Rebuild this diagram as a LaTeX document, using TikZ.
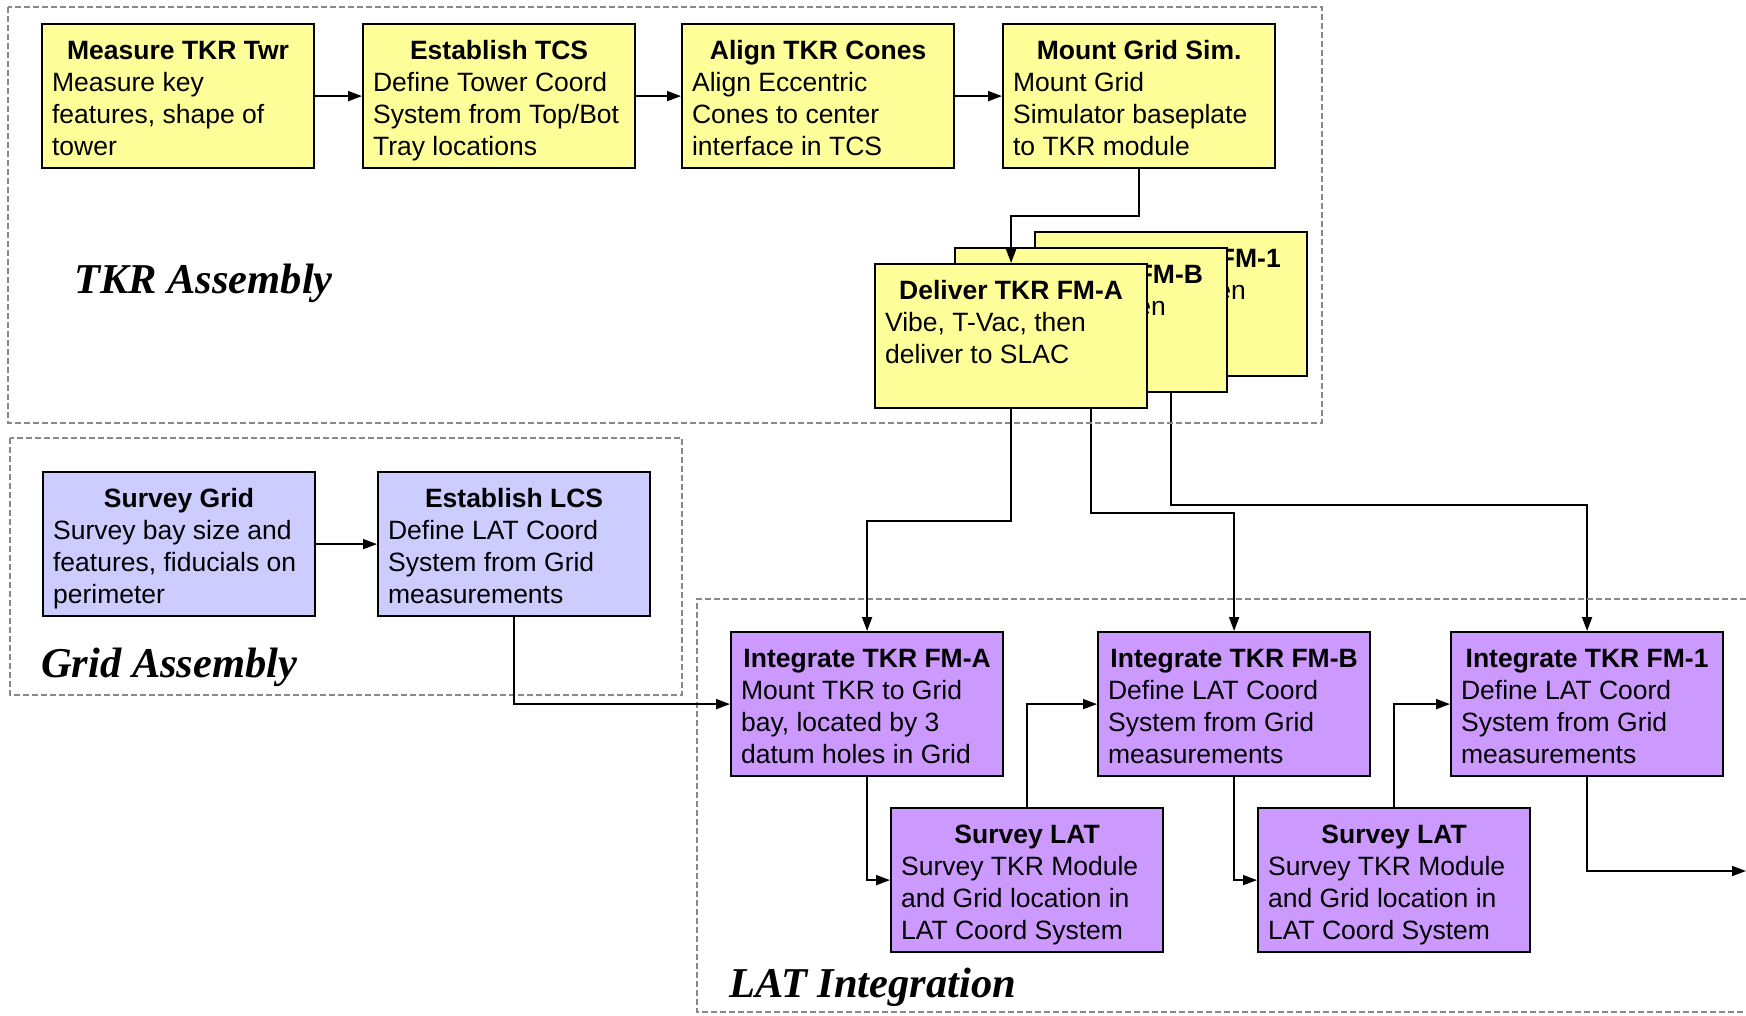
\documentclass[tikz,border=0pt]{standalone}
\usepackage{fontspec}
\setmainfont{Liberation Sans}
\newfontfamily\regionfont{Liberation Serif}
\usetikzlibrary{arrows.meta}
\pgfdeclarelayer{bg}
\pgfsetlayers{bg,main}
\definecolor{tkryellow}{HTML}{FFFF99}
\definecolor{gridblue}{HTML}{CCCCFF}
\definecolor{latpurple}{HTML}{CC99FF}
\definecolor{regiongray}{HTML}{888888}
\newcommand\stepbody[2]{\parbox[c][144pt][t]{272pt}{\centering\rule{0pt}{35pt}\textbf{#1}\par\raggedright\leftskip=10pt #2\par}}
\tikzset{
  stepbox/.style={draw=black, line width=2.2pt, inner sep=0pt, anchor=north west,
    font=\fontsize{26.5}{32}\selectfont},
  tkrbox/.style={stepbox, fill=tkryellow},
  gridbox/.style={stepbox, fill=gridblue},
  latbox/.style={stepbox, fill=latpurple},
  region/.style={draw=regiongray, line width=1.5pt, dash pattern=on 6pt off 3pt},
  regionlabel/.style={inner sep=0pt, anchor=base west,
    font=\regionfont\bfseries\itshape\fontsize{42.5}{50}\selectfont},
  conn/.style={draw=black, line width=1.8pt, -{Triangle[length=14pt,width=10pt]}}
}
\begin{document}
\begin{tikzpicture}[x=1pt,y=-1pt]
\useasboundingbox (0,0) rectangle (1746,1015);
% regions
\draw[region] (8,7) rectangle (1322,423);
\draw[region] (10,438) rectangle (682,695);
\draw[region] (1746,599) -- (697,599) -- (697,1012) -- (1746,1012);
\node[regionlabel] (lblTKR) at (74,293) {TKR Assembly};
\node[regionlabel] (lblGrid) at (41,677) {Grid Assembly};
\node[regionlabel] (lblLAT) at (729,997) {LAT Integration};
% TKR assembly
\node[tkrbox] (m) at (41,23) {\stepbody{Measure TKR Twr}{Measure key\\features, shape of\\tower}};
\node[tkrbox] (tcs) at (362,23) {\stepbody{Establish TCS}{Define Tower Coord\\System from Top/Bot\\Tray locations}};
\node[tkrbox] (al) at (681,23) {\stepbody{Align TKR Cones}{Align Eccentric\\Cones to center\\interface in TCS}};
\node[tkrbox] (mt) at (1002,23) {\stepbody{Mount Grid Sim.}{Mount Grid\\Simulator baseplate\\to TKR module}};
\node[tkrbox] (d1) at (1034,231) {\stepbody{Deliver TKR FM-1}{Vibe, T-Vac, then\\deliver to SLAC}};
\node[tkrbox] (dB) at (954,247) {\stepbody{Deliver TKR FM-B}{Vibe, T-Vac, then\\deliver to SLAC}};
\node[tkrbox] (dA) at (874,263) {\stepbody{Deliver TKR FM-A}{Vibe, T-Vac, then\\deliver to SLAC}};
% Grid assembly
\node[gridbox] (sg) at (42,471) {\stepbody{Survey Grid}{Survey bay size and\\features, fiducials on\\perimeter}};
\node[gridbox] (lcs) at (377,471) {\stepbody{Establish LCS}{Define LAT Coord\\System from Grid\\measurements}};
% LAT integration
\node[latbox] (iA) at (730,631) {\stepbody{Integrate TKR FM-A}{Mount TKR to Grid\\bay, located by 3\\datum holes in Grid}};
\node[latbox] (iB) at (1097,631) {\stepbody{Integrate TKR FM-B}{Define LAT Coord\\System from Grid\\measurements}};
\node[latbox] (i1) at (1450,631) {\stepbody{Integrate TKR FM-1}{Define LAT Coord\\System from Grid\\measurements}};
\node[latbox] (sA) at (890,807) {\stepbody{Survey LAT}{Survey TKR Module\\and Grid location in\\LAT Coord System}};
\node[latbox] (sB) at (1257,807) {\stepbody{Survey LAT}{Survey TKR Module\\and Grid location in\\LAT Coord System}};
\coordinate (out) at (1746,871);
% connectors
\draw[conn] (m.east) -- (tcs.west);
\draw[conn] (tcs.east) -- (al.west);
\draw[conn] (al.east) -- (mt.west);
\draw[conn] (mt.south) -- ++(0,47) -| (dA.north);
\draw[conn] (sg.east) -- (lcs.west);
\draw[conn] (dA.south) -- ++(0,112) -| (iA.north);
\begin{pgfonlayer}{bg}
\draw[conn] (dB.south) -- ++(0,120) -| (iB.north);
\draw[conn] (d1.south) -- ++(0,128) -| (i1.north);
\end{pgfonlayer}
\draw[conn] (lcs.south) |- (iA.west);
\draw[conn] (iA.south) |- (sA.west);
\draw[conn] (sA.north) |- (iB.west);
\draw[conn] (iB.south) |- (sB.west);
\draw[conn] (sB.north) |- (i1.west);
\draw[conn] (i1.south) |- (out);
\end{tikzpicture}
\end{document}
